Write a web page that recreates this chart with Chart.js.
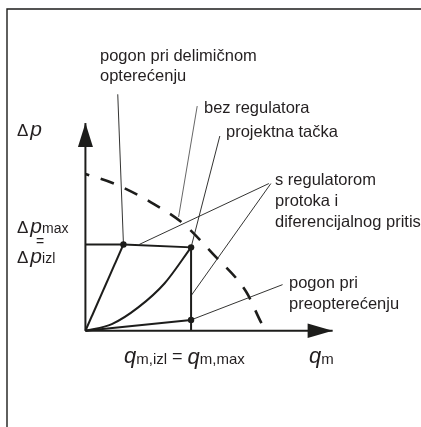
<!DOCTYPE html>
<html>
<head>
<meta charset="utf-8">
<script src="https://cdn.jsdelivr.net/npm/chart.js@4/dist/chart.umd.min.js"></script>
<style>
  html, body { margin: 0; padding: 0; background: #fff; }
  canvas { display: block; }
</style>
</head>
<body>
<canvas id="diagram" width="421" height="427"></canvas>
<script>
// values in percent of the design point (q = 100 %, dp = 100 %)
const pumpQ = [0, 28, 62, 93, 120, 152, 169, 172];
const pumpDp = [188, 176, 154, 128, 93, 47, 4, 0];

const systemQ = [0, 25, 50, 75, 100];
const systemDp = [0, 8, 28, 57, 100];

const partLoadQ = [0, 36];
const partLoadDp = [0, 103.5];

const limitQ = [0, 36, 100, 100];
const limitDp = [103.5, 103.5, 100, 0];

const overloadQ = [0, 100];
const overloadDp = [0, 13];

const markerQ = [36, 100, 100];
const markerDp = [103.5, 100, 13];

// axis ends (tip of arrow)
const axisQmax = 234;
const axisDpmax = 249;

// leader lines: [from label, to curve]
const leaderFrom = [[30.6, 283.5], [105.8, 269.4], [127.2, 233.5], [173.6, 176.5], [175.5, 176.5], [186.6, 55.3]];
const leaderTo = [[36, 103.5], [88.2, 136.5], [100, 100], [51, 103.5], [100, 42], [100, 13]];

const W = 421, H = 427;
const ORIGIN = { x: 83, y: 333 };
const PX_Q = 1.077, PX_DP = 0.85;

const INK = '#1d1d1b';
const TEXT = '#231f20';
const SANS = '"Liberation Sans", Arial, sans-serif';

function pts(xs, ys) {
    return xs.map((x, i) => ({ x: x, y: ys[i] }));
}

const datasets = [
    { data: pts([0, axisQmax], [0, 0]), borderWidth: 2 },
    { data: pts([0, 0], [0, axisDpmax]), borderWidth: 2 },
    { data: pts(pumpQ, pumpDp), borderWidth: 2.6, borderDash: [14, 12], borderDashOffset: 10, cubicInterpolationMode: 'monotone' },
    { data: pts(systemQ, systemDp), borderWidth: 2, cubicInterpolationMode: 'monotone' },
    { data: pts(partLoadQ, partLoadDp), borderWidth: 2 },
    { data: pts(limitQ, limitDp), borderWidth: 2 },
    { data: pts(overloadQ, overloadDp), borderWidth: 2 },
    { data: pts(markerQ, markerDp), showLine: false, pointRadius: 3.2, backgroundColor: INK, borderWidth: 0 }
];

leaderFrom.forEach((p, i) => {
    datasets.push({
        data: [{ x: p[0], y: p[1] }, { x: leaderTo[i][0], y: leaderTo[i][1] }],
        borderWidth: 0.9,
        borderColor: i === 1 ? '#555' : INK
    });
});

datasets.forEach(ds => {
    ds.showLine = ds.showLine !== false;
    if (ds.pointRadius === undefined) ds.pointRadius = 0;
    if (!ds.borderColor) ds.borderColor = INK;
    ds.fill = false;
});

function drawRich(ctx, x, y, parts) {
    parts.forEach(p => {
        ctx.font = p.font;
        ctx.fillText(p.t, x + (p.dx || 0), y + (p.dy || 0));
        x += ctx.measureText(p.t).width + (p.dx || 0);
    });
}

const sketchPlugin = {
    id: 'sketch',
    afterDatasetsDraw(chart) {
        const ctx = chart.ctx;
        const xs = chart.scales.x, ys = chart.scales.y;
        ctx.save();

        // frame
        ctx.strokeStyle = INK;
        ctx.lineWidth = 1.4;
        ctx.beginPath();
        ctx.moveTo(7, H);
        ctx.lineTo(7, 9);
        ctx.lineTo(W, 9);
        ctx.stroke();

        // arrow heads
        ctx.fillStyle = INK;
        const ox = xs.getPixelForValue(0), oy = ys.getPixelForValue(0);
        const tipY = ys.getPixelForValue(axisDpmax);
        ctx.beginPath();
        ctx.moveTo(ox, tipY);
        ctx.lineTo(ox - 7.5, tipY + 24);
        ctx.lineTo(ox + 7.5, tipY + 24);
        ctx.closePath();
        ctx.fill();
        const tipX = xs.getPixelForValue(axisQmax);
        ctx.beginPath();
        ctx.moveTo(tipX, oy);
        ctx.lineTo(tipX - 25, oy - 7.3);
        ctx.lineTo(tipX - 25, oy + 7.3);
        ctx.closePath();
        ctx.fill();

        // texts
        ctx.fillStyle = TEXT;
        ctx.textBaseline = 'alphabetic';
        ctx.font = '16.5px ' + SANS;
        ctx.fillText('pogon pri delimičnom', 100, 61);
        ctx.fillText('opterećenju', 100, 81);
        ctx.fillText('bez regulatora', 204, 113);
        ctx.fillText('projektna tačka', 226, 137);
        ctx.fillText('s regulatorom', 275, 185);
        ctx.fillText('protoka i', 275, 206);
        ctx.fillText('diferencijalnog pritis', 275, 227);
        ctx.fillText('pogon pri', 289, 288);
        ctx.fillText('preopterećenju', 289, 309);

        const delta = '17px ' + SANS;
        const pIt = 'italic 21px ' + SANS;
        const sub = '14px ' + SANS;
        drawRich(ctx, 17, 136, [{ t: 'Δ', font: delta }, { t: 'p', font: pIt, dx: 2 }]);
        drawRich(ctx, 17, 233, [{ t: 'Δ', font: delta }, { t: 'p', font: pIt, dx: 2 }, { t: 'max', font: sub }]);
        ctx.font = sub;
        ctx.fillText('=', 36, 246);
        drawRich(ctx, 17, 263, [{ t: 'Δ', font: delta }, { t: 'p', font: pIt, dx: 2 }, { t: 'izl', font: sub }]);

        const qIt = 'italic 22px ' + SANS;
        const qSub = '15px ' + SANS;
        drawRich(ctx, 124, 363, [
            { t: 'q', font: qIt },
            { t: 'm,izl', font: qSub, dy: 1 },
            { t: ' = ', font: '18px ' + SANS, dy: -1 },
            { t: 'q', font: qIt, dy: 1 },
            { t: 'm,max', font: qSub, dy: 1 }
        ]);
        drawRich(ctx, 309, 363, [{ t: 'q', font: qIt }, { t: 'm', font: qSub, dy: 1 }]);

        ctx.restore();
    }
};

new Chart(document.getElementById('diagram'), {
    type: 'scatter',
    data: { datasets: datasets },
    options: {
        responsive: false,
        animation: false,
        devicePixelRatio: 1,
        layout: { padding: 0 },
        plugins: { legend: { display: false }, tooltip: { enabled: false } },
        scales: {
            x: { type: 'linear', display: false, min: -ORIGIN.x / PX_Q, max: (W - ORIGIN.x) / PX_Q },
            y: { type: 'linear', display: false, min: -(H - ORIGIN.y) / PX_DP, max: ORIGIN.y / PX_DP }
        }
    },
    plugins: [sketchPlugin]
});
</script>
</body>
</html>
